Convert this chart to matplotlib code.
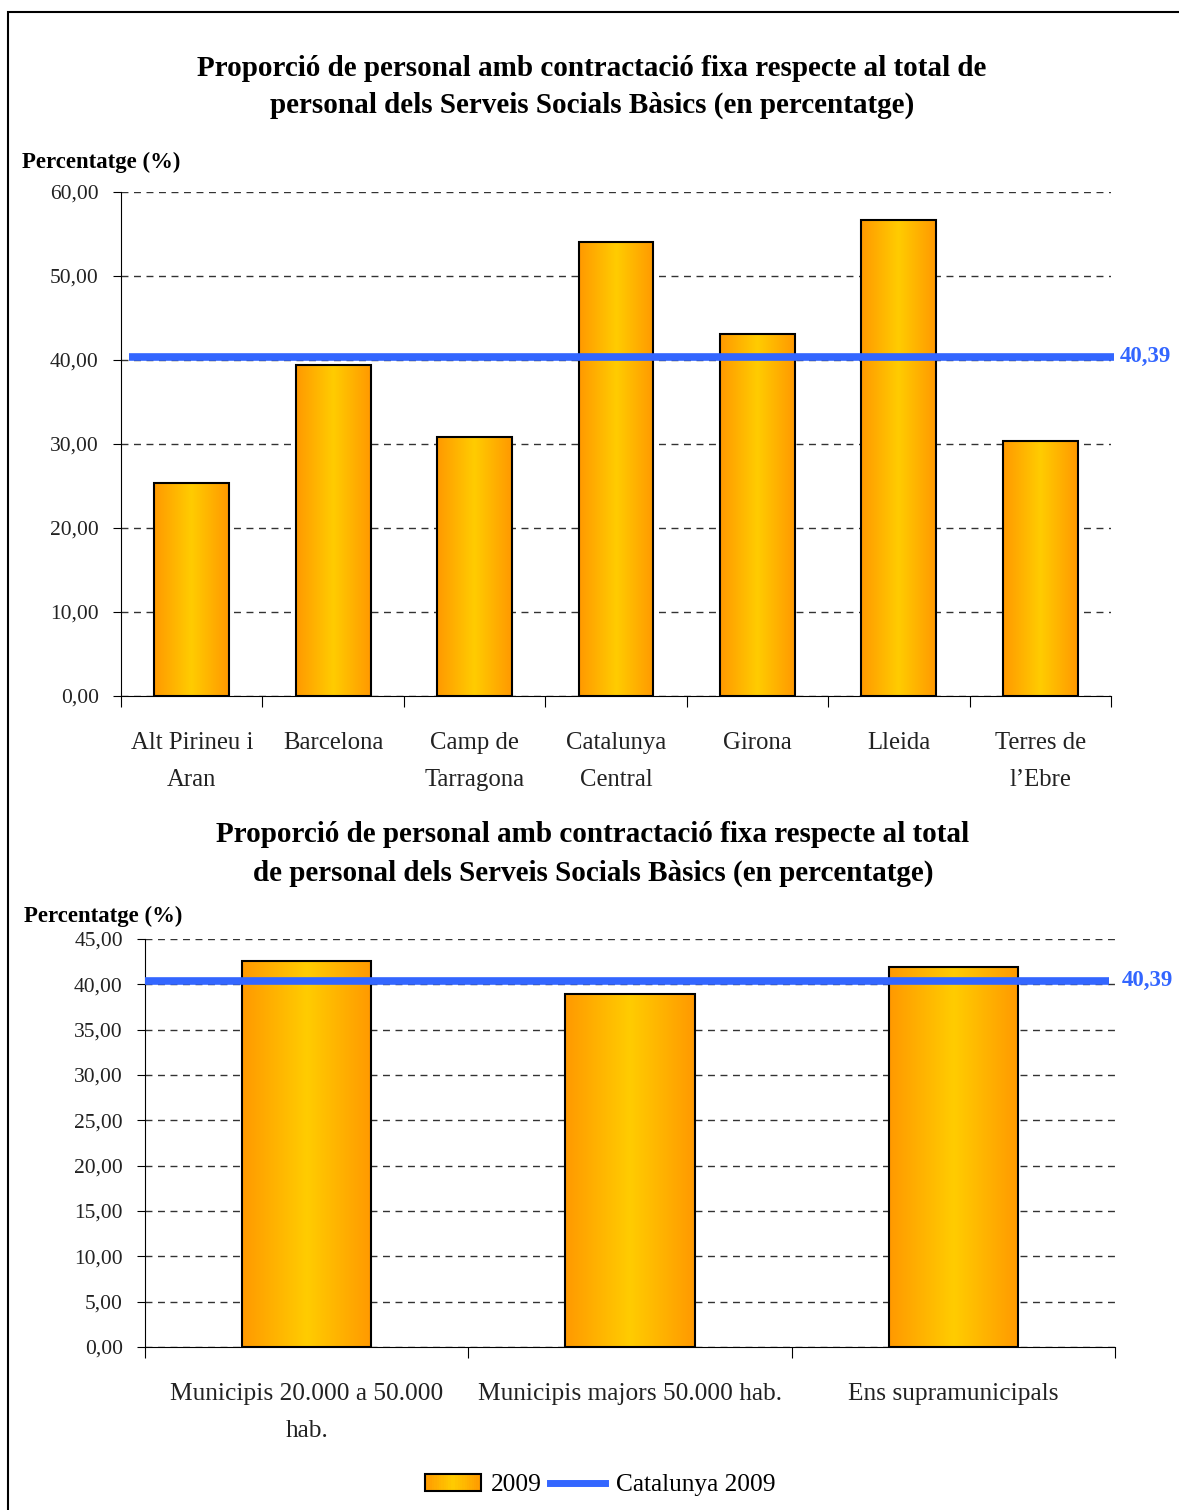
import matplotlib
matplotlib.use("Agg")
import matplotlib.pyplot as plt
import numpy as np
from matplotlib.colors import LinearSegmentedColormap
from matplotlib.patches import Rectangle
from matplotlib.lines import Line2D
from matplotlib.legend_handler import HandlerBase

plt.rcParams['font.family'] = ['Liberation Serif', 'DejaVu Serif']

# data
regions = ["Alt Pirineu i\nAran", "Barcelona", "Camp de\nTarragona", "Catalunya\nCentral",
           "Girona", "Lleida", "Terres de\nl’Ebre"]
region_vals = [25.4, 39.4, 30.8, 54.1, 43.1, 56.7, 30.4]
sizes = ["Municipis 20.000 a 50.000\nhab.", "Municipis majors 50.000 hab.", "Ens supramunicipals"]
size_vals = [42.6, 38.9, 41.9]
catalunya = 40.39

title1 = "Proporció de personal amb contractació fixa respecte al total de\npersonal dels Serveis Socials Bàsics (en percentatge)"
title2 = "Proporció de personal amb contractació fixa respecte al total\nde personal dels Serveis Socials Bàsics (en percentatge)"

ORANGE = "#FF9900"
YELLOW = "#FFCC00"
BLUE = "#3366FF"
cmap = LinearSegmentedColormap.from_list("bar", [ORANGE, YELLOW, ORANGE])
grad = np.linspace(0, 1, 256).reshape(1, -1)


def fmt(v):
    return f"{v:.2f}".replace(".", ",")


def gradient_bars(ax, vals, width):
    x = np.arange(len(vals))
    bars = ax.bar(x, vals, width=width, facecolor="none", edgecolor="black", linewidth=1.5, zorder=4)
    for b in bars:
        ax.imshow(grad, extent=[b.get_x(), b.get_x() + b.get_width(), 0, b.get_height()],
                  aspect="auto", cmap=cmap, zorder=3, interpolation="bicubic")


def style_axis(ax, labels, ymax, step, fs_lab, pad):
    n = len(labels)
    ax.set_xlim(-0.5, n - 0.5)
    ax.set_ylim(0, ymax)
    yt = np.arange(0, ymax + step / 2, step)
    ax.set_yticks(yt)
    ax.set_yticklabels([fmt(v) for v in yt], fontsize=15.5, color="#222222")
    ax.set_xticks(np.arange(-0.5, n, 1.0))
    ax.set_xticklabels([])
    ax.set_xticks(np.arange(n), minor=True)
    ax.set_xticklabels(labels, minor=True, fontsize=fs_lab, color="#222222", linespacing=1.85)
    ax.tick_params(axis="x", which="major", length=8, direction="out")
    ax.tick_params(axis="x", which="minor", length=0, pad=pad)
    ax.tick_params(axis="y", length=6, direction="out", pad=10)
    for s in ["top", "right"]:
        ax.spines[s].set_visible(False)
    ax.grid(axis="y", color="#333333", linestyle=(0, (5, 4)), linewidth=1.0, zorder=0)
    ax.set_axisbelow(True)


fig = plt.figure(figsize=(11.79, 15.10), dpi=100)

# frame
fig.patches.append(Rectangle((8 / 1179, -0.1), 1.2, 1 - 12 / 1510 + 0.1, transform=fig.transFigure,
                             fill=False, edgecolor="black", linewidth=1.5))

# top chart
ax1 = fig.add_axes([121 / 1179, 1 - 696 / 1510, 990 / 1179, 504 / 1510])
gradient_bars(ax1, region_vals, 0.53)
style_axis(ax1, regions, 60, 10, 17.8, 26)
ax1.plot([-0.44, 6.52], [catalunya, catalunya], color=BLUE, linewidth=5.5, zorder=5, clip_on=False,
         solid_capstyle="butt")
ax1.text(6.56, catalunya, fmt(catalunya), color=BLUE, fontsize=16.5, fontweight="bold", va="center",
         ha="left")
fig.text(592 / 1179, 1 - 87 / 1510, title1, ha="center", va="center", fontsize=21, fontweight="bold",
         linespacing=1.5)
fig.text(22 / 1179, 1 - 162 / 1510, "Percentatge (%)", ha="left", va="center", fontsize=16.4,
         fontweight="bold")

# bottom chart
ax2 = fig.add_axes([145 / 1179, 1 - 1347 / 1510, 970 / 1179, 408 / 1510])
gradient_bars(ax2, size_vals, 0.4)
style_axis(ax2, sizes, 45, 5, 18.3, 26)
ax2.plot([-0.5, 2.48], [catalunya, catalunya], color=BLUE, linewidth=5.5, zorder=5, clip_on=False,
         solid_capstyle="butt")
ax2.text(2.52, catalunya, fmt(catalunya), color=BLUE, fontsize=16.5, fontweight="bold", va="center",
         ha="left")
fig.text(593 / 1179, 1 - 854 / 1510, title2, ha="center", va="center", fontsize=21, fontweight="bold",
         linespacing=1.55)
fig.text(24 / 1179, 1 - 916 / 1510, "Percentatge (%)", ha="left", va="center", fontsize=16.4,
         fontweight="bold")


class GradHandler(HandlerBase):
    def create_artists(self, legend, orig, xd, yd, w, h, fontsize, trans):
        arts = []
        k = 24
        for i in range(k):
            c = cmap((i + 0.5) / k)
            arts.append(Rectangle((xd + w * i / k, yd), w / k + 0.3, h, facecolor=c, edgecolor="none",
                                  transform=trans))
        arts.append(Rectangle((xd, yd), w, h, facecolor="none", edgecolor="black", linewidth=1.5,
                              transform=trans))
        return arts


bar_handle = Rectangle((0, 0), 1, 1)
line_handle = Line2D([0], [0], color=BLUE, linewidth=5)
fig.legend([bar_handle, line_handle], ["2009", "Catalunya 2009"], loc="center",
           bbox_to_anchor=(600 / 1179, 1 - 1485 / 1510), ncol=2, frameon=False, fontsize=18.3,
           handler_map={Rectangle: GradHandler()}, handlelength=2.2, handletextpad=0.4, columnspacing=0.3)

fig.savefig("out.png", dpi=100)
